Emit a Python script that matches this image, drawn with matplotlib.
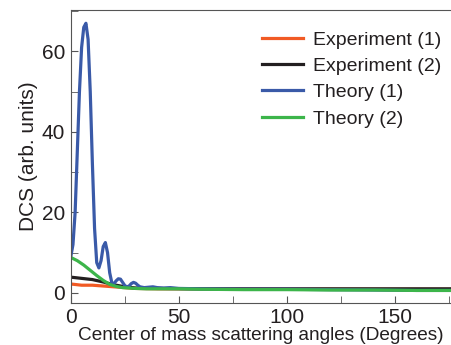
import numpy as np
import matplotlib
matplotlib.use('Agg')
import matplotlib.pyplot as plt
from matplotlib.ticker import MultipleLocator

plt.rcParams['font.family'] = ['Liberation Sans', 'DejaVu Sans']

exp1_x = [0, 5, 10, 15, 20, 25, 30, 40, 60, 80, 100, 120, 140, 160, 176]
exp1_y = [2.2, 1.9, 1.9, 1.7, 1.5, 1.3, 1.1, 1.0, 1.0, 0.9, 0.9, 0.9, 0.9, 0.9, 0.9]

exp2_x = [0, 5, 10, 15, 20, 25, 30, 40, 60, 80, 100, 120, 140, 160, 176]
exp2_y = [3.9, 3.6, 3.3, 2.7, 2.0, 1.5, 1.2, 1.1, 1.0, 1.0, 1.0, 1.0, 1.0, 1.0, 1.0]

th1_x = [0, 1, 2, 3, 4, 5, 6, 7, 8, 9, 10, 11, 12, 13, 14, 15, 16, 17, 18,
         19, 20, 21, 22, 23, 24, 25, 26, 27, 28, 29, 30, 31, 32, 34, 36, 38,
         40, 43, 46, 50, 60, 80, 100, 120, 140, 160, 176]
th1_y = [9, 12, 20, 35, 50, 61, 66, 67, 63, 50, 32, 16, 7.5, 6.2, 8, 11.5,
         12.5, 10, 5, 2.5, 2.3, 3, 3.5, 3.4, 2.6, 1.8, 1.5, 1.7, 2.3, 2.6, 2.4,
         1.9, 1.5, 1.3, 1.4, 1.5, 1.3, 1.2, 1.3, 1.1, 1.0, 0.9, 0.9, 0.8, 0.7,
         0.6, 0.6]

th2_x = [0, 3, 6, 9, 12, 15, 18, 21, 24, 27, 30, 35, 40, 50, 60, 80, 100, 120, 140, 160, 176]
th2_y = [8.8, 8.0, 6.9, 5.6, 4.3, 3.1, 2.1, 1.6, 1.3, 1.2, 1.1, 1.0, 1.0, 1.0, 0.9,
         0.8, 0.8, 0.7, 0.7, 0.6, 0.6]

labels = ['Experiment (1)', 'Experiment (2)', 'Theory (1)', 'Theory (2)']
colors = ['#f15a24', '#231f20', '#3a5aa8', '#3cb54a']

fig = plt.figure(figsize=(4.51, 3.45), dpi=100)
ax = fig.add_axes([0.157, 0.122, 0.843, 0.849])

series = [(exp1_x, exp1_y), (exp2_x, exp2_y), (th1_x, th1_y), (th2_x, th2_y)]
for (xs, ys), lab, c in zip(series, labels, colors):
    ax.plot(xs, ys, color=c, lw=2.3, label=lab)

ax.set_xlim(0, 176)
ax.set_ylim(-2.5, 70.3)
ax.xaxis.set_major_locator(MultipleLocator(50))
ax.xaxis.set_minor_locator(MultipleLocator(25))
ax.yaxis.set_major_locator(MultipleLocator(20))
ax.yaxis.set_minor_locator(MultipleLocator(10))
ax.tick_params(which='both', direction='in', top=False, right=False,
               labelsize=15, color='#555555', labelcolor='#231f20')
ax.tick_params(axis='x', pad=4)
ax.tick_params(axis='y', pad=4)
ax.tick_params(which='both', length=5)
ax.spines['right'].set_visible(False)
for s in ['left', 'top', 'bottom']:
    ax.spines[s].set_color('#555555')

ax.set_xlabel('Center of mass scattering angles (Degrees)', fontsize=13.7,
              labelpad=0, color='#231f20')
ax.set_ylabel('DCS (arb. units)', fontsize=15, labelpad=3, color='#231f20')

leg = ax.legend(loc='upper right', bbox_to_anchor=(1.01, 0.975), frameon=False,
                fontsize=14, handlelength=2.1, handletextpad=0.5,
                labelspacing=0.45, borderaxespad=0.3)
for t in leg.get_texts():
    t.set_color('#231f20')

fig.savefig('out.png', dpi=100)
